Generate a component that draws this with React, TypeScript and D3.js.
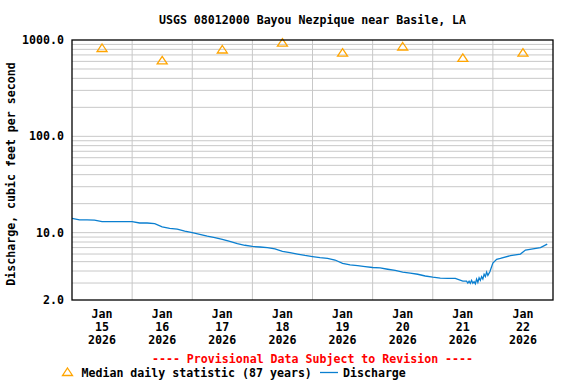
import React from "react";
import * as d3 from "d3";

const TITLE = "USGS 08012000 Bayou Nezpique near Basile, LA";
const Y_TITLE = "Discharge, cubic feet per second";
const PROVISIONAL = "---- Provisional Data Subject to Revision ----";
const MEDIAN_LABEL = "Median daily statistic (87 years)";
const DISCHARGE_LABEL = "Discharge";

const dayLabels = ["15", "16", "17", "18", "19", "20", "21", "22"];
const monthLabel = "Jan";
const yearLabel = "2026";
const yTickValues = [2, 10, 100, 1000];

// Median daily statistic, one per day (plotted at noon)
const medianValues = [826, 613, 797, 937, 738, 856, 653, 740];

// Discharge readings: hours since Jan 15 00:00 and cfs
const dischargeHours = [
  0, 3, 6, 9, 12, 15, 18, 21, 24, 27, 30, 33, 36, 39, 42, 45, 48, 51, 54, 57,
  60, 63, 66, 69, 72, 75, 78, 81, 84, 87, 90, 93, 96, 99, 102, 105, 108, 111,
  114, 117, 120, 123, 126, 129, 132, 135, 138, 141, 144, 147, 150, 153, 156,
  157.5, 158, 158.5, 159, 159.5, 160, 160.5, 161, 161.5, 162, 162.5, 163,
  163.5, 164, 164.5, 165, 165.5, 166, 166.8, 168, 169.5, 171, 175, 179, 181,
  184, 187, 189.7,
];
const dischargeValues = [
  14.1, 13.6, 13.6, 13.5, 13.0, 13.0, 13.0, 13.0, 13.0, 12.6, 12.6, 12.4, 11.5,
  11.1, 10.9, 10.4, 10.0, 9.6, 9.2, 8.9, 8.5, 8.1, 7.7, 7.4, 7.2, 7.1, 7.0, 6.8,
  6.4, 6.2, 6.0, 5.8, 5.65, 5.5, 5.4, 5.2, 4.8, 4.63, 4.55, 4.45, 4.35, 4.3,
  4.17, 4.05, 3.9, 3.8, 3.7, 3.55, 3.45, 3.37, 3.35, 3.35, 3.14,
  3.14, 3.0, 3.14, 2.98, 3.2, 2.98, 3.1, 2.95, 3.3, 3.05, 3.4, 3.2,
  3.5, 3.3, 3.7, 3.5, 3.9, 3.6, 3.93, 4.83, 5.28, 5.4, 5.77, 6.0, 6.6,
  6.8, 7.0, 7.6,
];

const FONT = "'DejaVu Sans Mono', 'Liberation Mono', monospace";
const FS = 11.6;
const ORANGE = "#FFA500";
const BLUE = "#0a7fd0";

const L = 72, R = 553, T = 40, B = 300;
const HOUR = 3600 * 1000;
const START = Date.UTC(2026, 0, 15);

function tri(cx: number, cy: number) {
  return `M${cx},${cy - 4} L${cx + 5},${cy + 3.5} L${cx - 5},${cy + 3.5} Z`;
}

export default function App() {
  const x = d3.scaleUtc().domain([new Date(START), new Date(START + 8 * 24 * HOUR)]).range([L, R]);
  const y = d3.scaleLog().domain([2, 1000]).range([B, T]);

  const gridY: number[] = [];
  [1, 10, 100].forEach((d) => {
    for (let k = 1; k <= 9; k++) {
      const v = d * k;
      if (v > 2 && v < 1000) gridY.push(v);
    }
  });
  const gridX = d3.range(1, 8).map((i) => new Date(START + i * 24 * HOUR));

  const pts: [number, number][] = dischargeHours.map((h, i) => [
    x(new Date(START + h * HOUR)),
    y(dischargeValues[i]),
  ]);
  const line = d3.line().curve(d3.curveLinear)(pts) || "";

  const fmt = d3.format(".1f");

  return (
    <svg width={576} height={384} style={{ position: "absolute", left: 0, top: 0, background: "#fff" }}
      fontFamily={FONT} fontWeight="bold" fontSize={FS}>
      <rect x={0} y={0} width={576} height={384} fill="#fff" />
      <text x={(L + R) / 2} y={20} textAnchor="middle" dominantBaseline="central">{TITLE}</text>
      {gridY.map((v) => (
        <line key={"gy" + v} x1={L} x2={R} y1={y(v)} y2={y(v)} stroke="#c8c8c8" strokeWidth={1} />
      ))}
      {gridX.map((d, i) => (
        <line key={"gx" + i} x1={x(d)} x2={x(d)} y1={T} y2={B} stroke="#c8c8c8" strokeWidth={1} />
      ))}
      <path d={line} fill="none" stroke={BLUE} strokeWidth={1.3} />
      {medianValues.map((v, i) => (
        <path key={"m" + i} d={tri(x(new Date(START + (i * 24 + 12) * HOUR)), y(v))}
          fill="none" stroke={ORANGE} strokeWidth={1.3} />
      ))}
      <rect x={L} y={T} width={R - L} height={B - T} fill="none" stroke="#000" strokeWidth={1.3} />
      {yTickValues.map((v) => (
        <text key={"yt" + v} x={64} y={y(v)} textAnchor="end" dominantBaseline="central">{fmt(v)}</text>
      ))}
      <text transform={`translate(11,${(T + B) / 2 + 4}) rotate(-90)`} textAnchor="middle" dominantBaseline="central">{Y_TITLE}</text>
      {dayLabels.map((d, i) => {
        const cx = x(new Date(START + (i * 24 + 12) * HOUR));
        return (
          <g key={"xl" + i}>
            <text x={cx} y={314} textAnchor="middle" dominantBaseline="central">{monthLabel}</text>
            <text x={cx} y={327} textAnchor="middle" dominantBaseline="central">{d}</text>
            <text x={cx} y={340} textAnchor="middle" dominantBaseline="central">{yearLabel}</text>
          </g>
        );
      })}
      <text x={(L + R) / 2} y={358.5} textAnchor="middle" dominantBaseline="central" fill="#ff0000">{PROVISIONAL}</text>
      <path d={tri(67.5, 372)} fill="none" stroke={ORANGE} strokeWidth={1.3} />
      <text x={81.5} y={373} dominantBaseline="central">{MEDIAN_LABEL}</text>
      <line x1={320} x2={338} y1={372.5} y2={372.5} stroke={BLUE} strokeWidth={1.3} />
      <text x={343} y={373} dominantBaseline="central">{DISCHARGE_LABEL}</text>
    </svg>
  );
}
